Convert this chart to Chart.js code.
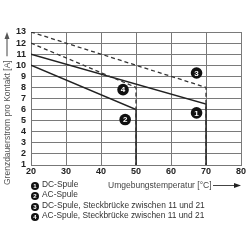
<!DOCTYPE html>
<html>
<head>
<meta charset="utf-8">
<script src="https://cdn.jsdelivr.net/npm/chart.js@4"></script>
<style>
  body { margin: 0; background: #fff; font-family: "Liberation Sans", Arial, sans-serif; }
  #wrap { position: relative; width: 250px; height: 250px; }
  #box { position: absolute; left: 0; top: 0; width: 250px; height: 250px; }
  .xtitle { position: absolute; left: 108px; top: 180px; font-size: 8.5px; color: #444; white-space: nowrap; }
  .legend { position: absolute; left: 31px; top: 179px; font-size: 8.4px; color: #333; }
  .legend div { height: 10.4px; line-height: 10.4px; white-space: nowrap; }
  .legend b { display: inline-block; width: 8px; height: 8px; border-radius: 50%; background: #111; color: #fff;
    font-size: 6px; line-height: 8px; text-align: center; margin-right: 3px; vertical-align: -1px; }
</style>
</head>
<body>
<div id="wrap">
  <div id="box"><canvas id="chart"></canvas></div>
  <div class="xtitle">Umgebungstemperatur [°C]</div>
  <div class="legend" id="legend"></div>
</div>
<script>
const yTitle = 'Grenzdauerstrom pro Kontakt [A]';
const serienNamen = ['DC-Spule', 'AC-Spule', 'DC-Spule, Steckbrücke zwischen 11 und 21', 'AC-Spule, Steckbrücke zwischen 11 und 21'];

// temperaturen und ströme je kurve (letzter punkt = senkrechte linie nach unten)
const dcTemp = [20, 70, 70];
const dcStrom = [11, 6.5, 1];
const acTemp = [20, 50, 50];
const acStrom = [10, 6, 1];
const dcBrueckeTemp = [20, 70, 70];
const dcBrueckeStrom = [13, 8, 1];
const acBrueckeTemp = [20, 50, 50];
const acBrueckeStrom = [12, 8, 1];

// nummern-marker
const markerNr = ['1', '2', '3', '4'];
const markerX = [67.3, 46.9, 67.3, 46.3];
const markerY = [5.7, 5.1, 9.3, 7.8];

const xTicks = [20, 30, 40, 50, 60, 70, 80];
const yTicks = [1, 2, 3, 4, 5, 6, 7, 8, 9, 10, 11, 12, 13];

function punkte(xs, ys) {
  return xs.map((x, i) => ({ x: x, y: ys[i] }));
}

// legende
const legend = document.getElementById('legend');
serienNamen.forEach((name, i) => {
  const d = document.createElement('div');
  d.innerHTML = `<b>${i + 1}</b>${name}`;
  legend.appendChild(d);
});

const schrift = '"Liberation Sans", Arial, sans-serif';

// nummern in den markern, y-titel mit pfeil, x-pfeil
const extras = {
  id: 'extras',
  afterDraw(chart) {
    const ctx = chart.ctx;
    ctx.save();
    const meta = chart.getDatasetMeta(4);
    ctx.fillStyle = '#fff';
    ctx.font = 'bold 8px ' + schrift;
    ctx.textAlign = 'center';
    ctx.textBaseline = 'middle';
    meta.data.forEach((p, i) => {
      ctx.fillText(markerNr[i], p.x, p.y + 0.5);
    });

    // x-pfeil
    ctx.strokeStyle = '#444';
    ctx.fillStyle = '#222';
    ctx.lineWidth = 1;
    ctx.beginPath();
    ctx.moveTo(213, 185.5);
    ctx.lineTo(236, 185.5);
    ctx.stroke();
    ctx.beginPath();
    ctx.moveTo(241, 185.5);
    ctx.lineTo(234, 183);
    ctx.lineTo(234, 188);
    ctx.closePath();
    ctx.fill();

    // y-titel
    ctx.translate(10, 185);
    ctx.rotate(-Math.PI / 2);
    ctx.fillStyle = '#555';
    ctx.font = '8.5px ' + schrift;
    ctx.textAlign = 'left';
    ctx.textBaseline = 'alphabetic';
    ctx.fillText(yTitle, 0, 0);
    const w = ctx.measureText(yTitle).width;
    ctx.beginPath();
    ctx.moveTo(w + 4, -3);
    ctx.lineTo(147, -3);
    ctx.stroke();
    ctx.beginPath();
    ctx.moveTo(153, -3);
    ctx.lineTo(146, -5.5);
    ctx.lineTo(146, -0.5);
    ctx.closePath();
    ctx.fill();
    ctx.restore();
  }
};

new Chart(document.getElementById('chart'), {
  type: 'line',
  data: {
    datasets: [
      { data: punkte(dcBrueckeTemp, dcBrueckeStrom), borderColor: '#333', borderWidth: 1.3, borderDash: [4, 3], pointRadius: 0 },
      { data: punkte(acBrueckeTemp, acBrueckeStrom), borderColor: '#333', borderWidth: 1.3, borderDash: [4, 3], pointRadius: 0 },
      { data: punkte(dcTemp, dcStrom), borderColor: '#222', borderWidth: 1.4, pointRadius: 0 },
      { data: punkte(acTemp, acStrom), borderColor: '#222', borderWidth: 1.4, pointRadius: 0 },
      { data: punkte(markerX, markerY), showLine: false, pointRadius: 5.8, pointBackgroundColor: '#111', pointBorderWidth: 0 }
    ]
  },
  options: {
    responsive: true,
    maintainAspectRatio: false,
    animation: false,
    layout: { padding: { top: 32, right: 9, left: 0, bottom: 0 } },
    plugins: { legend: { display: false }, tooltip: { enabled: false } },
    scales: {
      x: {
        type: 'linear', min: xTicks[0], max: xTicks[xTicks.length - 1],
        afterFit: s => { s.height = 85; },
        grid: { display: true, drawOnChartArea: true, drawTicks: false, color: '#7a7a7a', lineWidth: 1 },
        border: { color: '#777' },
        ticks: { stepSize: 10, padding: 1, autoSkip: false, color: '#222', font: { size: 9, weight: 'bold', family: schrift } }
      },
      y: {
        min: yTicks[0], max: yTicks[yTicks.length - 1],
        afterFit: s => { s.width = 31; },
        grid: { display: true, drawOnChartArea: true, drawTicks: false, color: '#7a7a7a', lineWidth: 1 },
        border: { color: '#777' },
        ticks: { stepSize: 1, padding: 5, autoSkip: false, color: '#222', font: { size: 9, weight: 'bold', family: schrift } }
      }
    }
  },
  plugins: [extras]
});
</script>
</body>
</html>
